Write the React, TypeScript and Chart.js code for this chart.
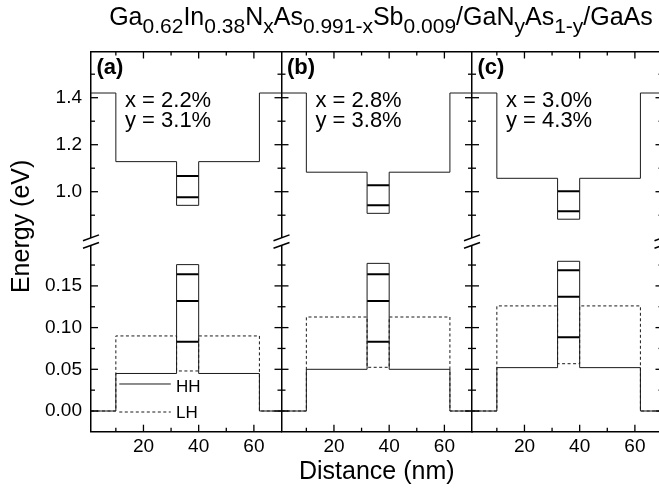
import React, { useEffect, useRef } from "react";
import { Chart, registerables } from "chart.js";

Chart.register(...registerables);

const FONT = '"Liberation Sans", Arial, Helvetica, sans-serif';

// ---------------- data ----------------
const PANEL_LABELS = ["(a)", "(b)", "(c)"];
const X_COMPOSITION = ["x = 2.2%", "x = 2.8%", "x = 3.0%"];
const Y_COMPOSITION = ["y = 3.1%", "y = 3.8%", "y = 4.3%"];
// layer boundaries (nm): GaAs | GaNAs | GaInNAsSb well | GaNAs | GaAs
const LAYER_EDGES = [1, 10, 32, 40, 62, 70];
const WELL_EDGES = [32, 40];
// conduction band (eV)
const CB_GAAS = [1.42, 1.42, 1.42];
const CB_GANAS = [1.128, 1.083, 1.057];
const CB_WELL = [0.942, 0.908, 0.883];
const CB_LEVELS = [
  [1.067, 0.976],
  [1.028, 0.942],
  [1.002, 0.917],
];
// heavy holes (eV)
const HH_GAAS = [0, 0, 0];
const HH_GANAS = [0.045, 0.05, 0.052];
const HH_WELL = [0.1755, 0.177, 0.1795];
const HH_LEVELS = [
  [0.164, 0.132, 0.083],
  [0.164, 0.132, 0.083],
  [0.1687, 0.137, 0.0884],
];
// light holes (eV)
const LH_GAAS = [0, 0, 0];
const LH_GANAS = [0.09, 0.1127, 0.126];
const LH_WELL = [0.048, 0.0524, 0.0567];

const LEGEND_LABELS = ["HH", "LH"];

// axes
const X_MIN = 1;
const X_MAX = 70;
const X_MAJOR = [20, 40, 60];
const X_MINOR = [10, 30, 50];
const YU_MIN = 0.7877;
const YU_MAX = 1.5966;
const YU_MAJOR = [1.0, 1.2, 1.4];
const YU_MINOR = [0.9, 1.1, 1.3, 1.5];
const YL_MIN = -0.0248;
const YL_MAX = 0.2031;
const YL_MAJOR = [0, 0.05, 0.1, 0.15];
const YL_MINOR = [0.025, 0.075, 0.125, 0.175];

const PANEL_AXES = ["xa", "xb", "xc"];

function profile(gaas: number, ganas: number, well: number) {
  const e = [gaas, ganas, well, ganas, gaas, gaas];
  return LAYER_EDGES.map((x, i) => ({ x, y: e[i] }));
}

const decorPlugin = {
  id: "decor",
  afterDraw(chart: any) {
    const { ctx, chartArea: ca, scales } = chart;
    const xs = PANEL_AXES.map((id) => scales[id]);
    const yu = scales.yu;
    const yl = scales.yl;
    ctx.save();
    ctx.strokeStyle = "#000";
    ctx.lineWidth = 1.3;
    const seg = (x1: number, y1: number, x2: number, y2: number) => {
      ctx.beginPath();
      ctx.moveTo(x1, y1);
      ctx.lineTo(x2, y2);
      ctx.stroke();
    };
    // inward x ticks, bottom and top
    xs.forEach((s: any) => {
      const groups: [number[], number][] = [
        [X_MAJOR, 7],
        [X_MINOR, 4],
      ];
      groups.forEach(([vals, len]) =>
        vals.forEach((v) => {
          const px = s.getPixelForValue(v);
          seg(px, ca.bottom, px, ca.bottom - len);
          seg(px, ca.top, px, ca.top + len);
        })
      );
    });
    // vertical panel borders with inward ticks
    const borders = [
      { x: ca.left, dirs: [1] },
      { x: xs[1].getPixelForValue(X_MIN), dirs: [1, -1] },
      { x: xs[2].getPixelForValue(X_MIN), dirs: [1, -1] },
      { x: ca.right, dirs: [-1] },
    ];
    const yGroups: [any, number[], number][] = [
      [yu, YU_MAJOR, 7],
      [yu, YU_MINOR, 4],
      [yl, YL_MAJOR, 7],
      [yl, YL_MINOR, 4],
    ];
    borders.forEach((b) => {
      yGroups.forEach(([sc, vals, len]) =>
        vals.forEach((v) => {
          const py = sc.getPixelForValue(v);
          b.dirs.forEach((d) => seg(b.x, py, b.x + d * len, py));
        })
      );
    });
    // axis breaks
    const yb = yu.bottom;
    borders.forEach((b) => {
      ctx.fillStyle = "#fff";
      ctx.fillRect(b.x - 2, yb - 3.6, 4, 7.2);
      ctx.lineWidth = 1.5;
      [-3.8, 3.8].forEach((dy) => seg(b.x - 8, yb + dy + 2.9, b.x + 8, yb + dy - 2.9));
    });
    // panel annotations
    ctx.fillStyle = "#000";
    xs.forEach((s: any, p: number) => {
      ctx.textAlign = "left";
      ctx.textBaseline = "middle";
      ctx.font = `bold 22px ${FONT}`;
      ctx.fillText(PANEL_LABELS[p], s.getPixelForValue(3.0), yu.getPixelForValue(1.525));
      ctx.font = `22px ${FONT}`;
      ctx.textBaseline = "alphabetic";
      ctx.fillText(X_COMPOSITION[p], s.getPixelForValue(13.3), yu.getPixelForValue(1.362));
      ctx.fillText(Y_COMPOSITION[p], s.getPixelForValue(13.3), yu.getPixelForValue(1.277));
    });
    // legend (inside panel a)
    const xa = xs[0];
    const lx1 = xa.getPixelForValue(11.25);
    const lx2 = xa.getPixelForValue(29.9);
    const ltx = xa.getPixelForValue(31.8);
    const rows = [
      { y: 0.0324, ty: 0.0288, dash: [] as number[] },
      { y: -0.0012, ty: -0.0032, dash: [3, 2.5] },
    ];
    ctx.font = `17px ${FONT}`;
    ctx.textBaseline = "middle";
    rows.forEach((r, i) => {
      ctx.strokeStyle = "#1a1a1a";
      ctx.lineWidth = 1;
      ctx.setLineDash(r.dash);
      const py = yl.getPixelForValue(r.y);
      seg(lx1, py, lx2, py);
      ctx.setLineDash([]);
      ctx.fillText(LEGEND_LABELS[i], ltx, yl.getPixelForValue(r.ty));
    });
    ctx.restore();
  },
};

export default function App() {
  const ref = useRef<HTMLCanvasElement>(null);

  useEffect(() => {
    const canvas = ref.current;
    if (!canvas) return;
    const base = {
      borderColor: "#1a1a1a",
      borderWidth: 1,
      pointRadius: 0,
      fill: false,
      tension: 0,
    };
    const datasets: any[] = [];
    PANEL_AXES.forEach((xid, p) => {
      datasets.push({ ...base, label: "HH", data: profile(HH_GAAS[p], HH_GANAS[p], HH_WELL[p]), xAxisID: xid, yAxisID: "yl", stepped: "before" });
      datasets.push({ ...base, label: "LH", data: profile(LH_GAAS[p], LH_GANAS[p], LH_WELL[p]), xAxisID: xid, yAxisID: "yl", stepped: "before", borderDash: [3, 2.5] });
      datasets.push({ ...base, label: "CB", data: profile(CB_GAAS[p], CB_GANAS[p], CB_WELL[p]), xAxisID: xid, yAxisID: "yu", stepped: "before" });
      CB_LEVELS[p].forEach((e) =>
        datasets.push({ ...base, label: "e", borderColor: "#000", borderWidth: 2, data: WELL_EDGES.map((x) => ({ x, y: e })), xAxisID: xid, yAxisID: "yu" })
      );
      HH_LEVELS[p].forEach((e) =>
        datasets.push({ ...base, label: "hh", borderColor: "#000", borderWidth: 2, data: WELL_EDGES.map((x) => ({ x, y: e })), xAxisID: xid, yAxisID: "yl" })
      );
    });

    const tickFont = { family: FONT, size: 19 };
    const noGrid = { display: false, drawTicks: false, drawOnChartArea: false };
    const border = { display: true, color: "#000", width: 1.5 };
    const bare = (extra: any) => ({
      type: "linear",
      display: true,
      ticks: { display: false },
      grid: noGrid,
      border,
      ...extra,
    });
    const xAxis = (withTitle: boolean) => ({
      type: "linear",
      axis: "x",
      position: "bottom",
      stack: "xs",
      stackWeight: 1,
      min: X_MIN,
      max: X_MAX,
      afterBuildTicks: (s: any) => {
        s.ticks = X_MAJOR.map((v) => ({ value: v }));
      },
      afterFit: (s: any) => {
        s.height = 57.3;
      },
      ticks: { font: tickFont, color: "#000", padding: 4, autoSkip: false, maxRotation: 0, callback: (v: any) => String(v) },
      grid: noGrid,
      border,
      title: withTitle
        ? { display: true, text: "Distance (nm)", color: "#000", font: { family: FONT, size: 25 }, padding: { top: 0, bottom: 1.5 } }
        : { display: false },
    });

    const chart = new Chart(canvas, {
      type: "line",
      data: { datasets },
      plugins: [decorPlugin],
      options: {
        animation: false,
        responsive: false,
        devicePixelRatio: 1,
        events: [],
        layout: { padding: { top: 51.5, right: 17.5, bottom: 0, left: 0 } },
        plugins: { legend: { display: false }, tooltip: { enabled: false }, title: { display: false } },
        scales: {
          yt: bare({
            axis: "y",
            position: "left",
            stack: "tt",
            stackWeight: 0.92,
            weight: 10,
            border: { display: false },
            title: { display: true, text: "Energy (eV)", color: "#000", font: { family: FONT, size: 25 }, padding: { top: 7.5, bottom: 0 } },
            afterFit: (s: any) => {
              s.width = 38;
            },
          }),
          ytd: bare({
            axis: "y",
            position: "left",
            stack: "tt",
            stackWeight: 0.08,
            weight: 9,
            border: { display: false },
            afterFit: (s: any) => {
              s.width = 38;
            },
          }),
          yu: {
            type: "linear",
            axis: "y",
            position: "left",
            stack: "ys",
            stackWeight: 1,
            weight: 2,
            min: YU_MIN,
            max: YU_MAX,
            afterBuildTicks: (s: any) => {
              s.ticks = YU_MAJOR.map((v) => ({ value: v }));
            },
            afterFit: (s: any) => {
              s.width = 53;
            },
            ticks: { font: tickFont, color: "#000", padding: 9, autoSkip: false, callback: (v: any) => Number(v).toFixed(1) },
            grid: noGrid,
            border,
          },
          yl: {
            type: "linear",
            axis: "y",
            position: "left",
            stack: "ys",
            stackWeight: 1,
            weight: 1,
            min: YL_MIN,
            max: YL_MAX,
            afterBuildTicks: (s: any) => {
              s.ticks = YL_MAJOR.map((v) => ({ value: v }));
            },
            afterFit: (s: any) => {
              s.width = 53;
            },
            ticks: { font: tickFont, color: "#000", padding: 9, autoSkip: false, callback: (v: any) => Number(v).toFixed(2) },
            grid: noGrid,
            border,
          },
          yr: bare({
            axis: "y",
            position: "right",
            afterFit: (s: any) => {
              s.width = 0;
            },
          }),
          ymb: bare({ axis: "y", position: { xb: X_MIN } }),
          ymc: bare({ axis: "y", position: { xc: X_MIN } }),
          xt: bare({
            axis: "x",
            position: "top",
            afterFit: (s: any) => {
              s.height = 0;
            },
          }),
          xa: xAxis(false),
          xb: xAxis(true),
          xc: xAxis(false),
        },
      } as any,
    });
    return () => chart.destroy();
  }, []);

  const subStyle: React.CSSProperties = { fontSize: 21, verticalAlign: "-8px", lineHeight: 0 };
  const sub = (t: string) => <sub style={subStyle}>{t}</sub>;

  return (
    <div
      style={{
        position: "fixed",
        left: 0,
        top: 0,
        width: 659,
        height: 489,
        overflow: "hidden",
        background: "#fff",
      }}
    >
      <canvas ref={ref} width={680} height={489} style={{ position: "absolute", left: 0, top: 0 }} />
      <div
        style={{
          position: "absolute",
          left: 0,
          top: 1,
          width: 762,
          textAlign: "center",
          fontFamily: FONT,
          fontSize: 25,
          lineHeight: "30px",
          color: "#000",
          whiteSpace: "nowrap",
        }}
      >
        Ga{sub("0.62")}In{sub("0.38")}N{sub("x")}As{sub("0.991-x")}Sb{sub("0.009")}/GaN{sub("y")}As{sub("1-y")}/GaAs
      </div>
    </div>
  );
}
